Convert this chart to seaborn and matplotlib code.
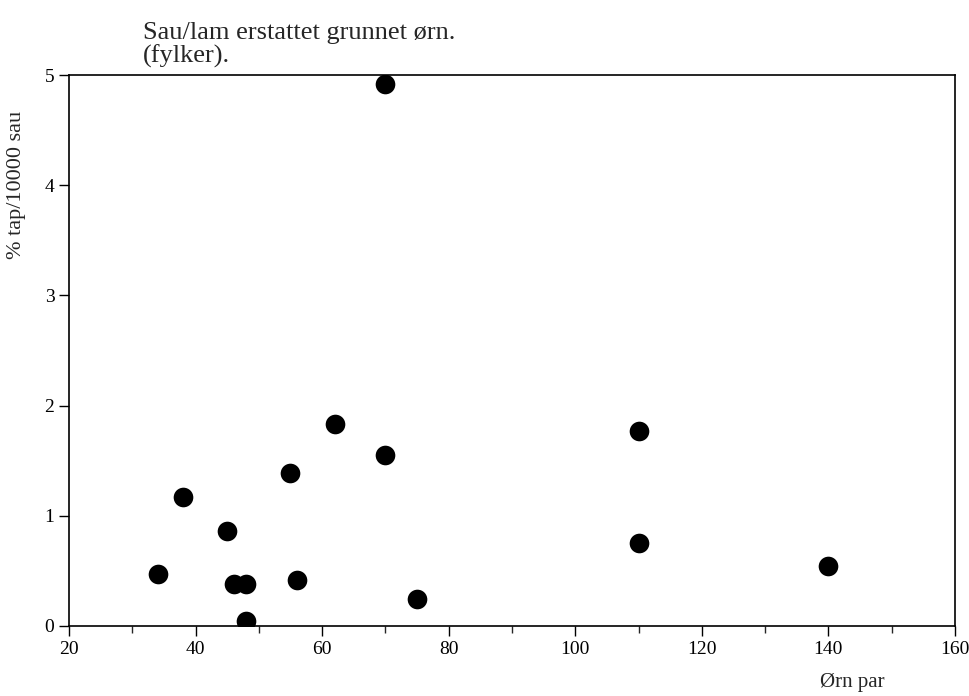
import matplotlib
matplotlib.use("Agg")
import matplotlib.pyplot as plt
import seaborn as sns
import pandas as pd
from matplotlib.ticker import MultipleLocator

orn_par = [34, 38, 45, 46, 48, 48, 55, 56, 62, 70, 70, 75, 110, 110, 140]
tap = [0.47, 1.17, 0.86, 0.38, 0.38, 0.045, 1.39, 0.42, 1.83, 1.55, 4.92, 0.245, 1.77, 0.75, 0.54]
x_ticks = [20, 40, 60, 80, 100, 120, 140, 160]
y_ticks = [0, 1, 2, 3, 4, 5]

df = pd.DataFrame({"x": orn_par, "y": tap})

sns.set_style("white")
plt.rcParams["font.family"] = ["Liberation Serif", "DejaVu Serif"]

fig = plt.figure(figsize=(9.7, 6.96), dpi=100)
ax = fig.add_axes([0.0711, 0.1006, 0.9134, 0.7914])

sns.scatterplot(data=df, x="x", y="y", ax=ax, color="black", s=200,
                edgecolor="black", linewidth=0, legend=False)

ax.set_xlim(20, 160)
ax.set_ylim(0, 5)
ax.set_xticks(x_ticks)
ax.set_yticks(y_ticks)
ax.xaxis.set_minor_locator(MultipleLocator(10))
ax.tick_params(axis="both", which="major", direction="out", length=7, width=1,
               labelsize=14, colors="black", bottom=True, left=True)
ax.tick_params(axis="x", which="minor", direction="out", length=5, width=1, bottom=True)
for sp in ax.spines.values():
    sp.set_visible(True)
    sp.set_color("black")
    sp.set_linewidth(1.2)

ax.set_xlabel("Ørn par", fontsize=15)
ax.xaxis.set_label_coords(0.884, -0.085)
ax.set_ylabel("% tap/10000 sau", fontsize=16)
ax.yaxis.set_label_coords(-0.048, 0.80)

fig.text(0.147, 0.968, "Sau/lam erstattet grunnet ørn.\n(fylker).", fontsize=19,
         va="top", ha="left", linespacing=1.02)

fig.savefig("out.png", dpi=100, facecolor="white")
